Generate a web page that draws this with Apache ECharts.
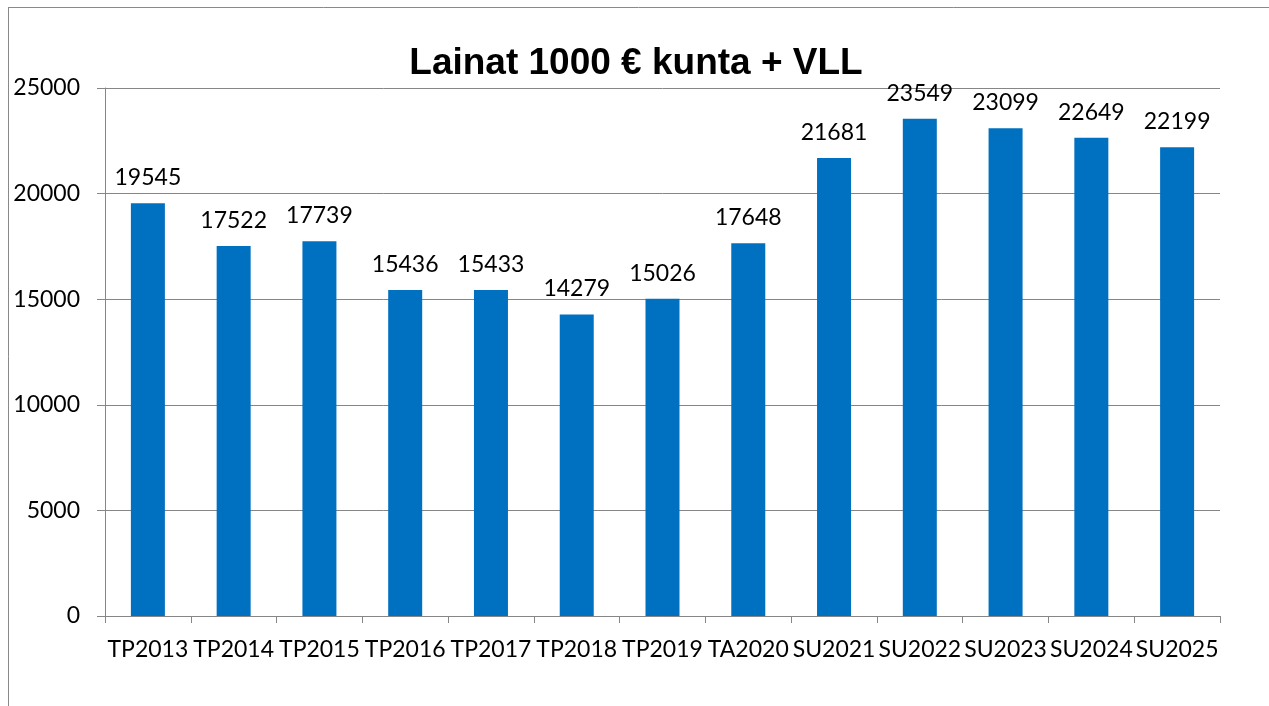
<!DOCTYPE html>
<html lang="fi">
<head>
    <meta charset="utf-8">
    <title>Lainat 1000 € kunta + VLL</title>
    <script src="https://cdn.jsdelivr.net/npm/echarts@6/dist/echarts.min.js"></script>
    <style>
        html, body { margin: 0; padding: 0; background: #fff; }
        #main { width: 1269px; height: 706px; }
    </style>
</head>
<body>
<div id="main"></div>
<script type="text/javascript">
    // data
    var categories = ['TP2013', 'TP2014', 'TP2015', 'TP2016', 'TP2017', 'TP2018', 'TP2019',
        'TA2020', 'SU2021', 'SU2022', 'SU2023', 'SU2024', 'SU2025'];
    var lainat = [19545, 17522, 17739, 15436, 15433, 14279, 15026,
        17648, 21681, 23549, 23099, 22649, 22199];
    var yTicks = [0, 5000, 10000, 15000, 20000, 25000];

    var myChart = echarts.init(document.getElementById('main'));
    var option = {
        backgroundColor: '#fff',
        animation: false,
        title: {
            text: 'Lainat 1000 € kunta + VLL',
            left: 631,
            top: 40,
            textAlign: 'center',
            textStyle: {
                fontFamily: 'Liberation Sans',
                fontWeight: 'bold',
                fontSize: 37,
                color: '#000'
            }
        },
        // chart area frame (only left and top edges show in the picture)
        graphic: [
            { type: 'line', shape: { x1: 8.5, y1: 7.5, x2: 8.5, y2: 706 }, style: { stroke: '#898989', lineWidth: 1 } },
            { type: 'line', shape: { x1: 8, y1: 7.5, x2: 1269, y2: 7.5 }, style: { stroke: '#898989', lineWidth: 1 } }
        ],
        grid: {
            left: 105,
            right: 49,
            top: 88,
            bottom: 90,
            containLabel: false
        },
        xAxis: {
            type: 'category',
            data: categories,
            axisLine: { lineStyle: { color: '#868686', width: 1 } },
            axisTick: { show: true, length: 7, lineStyle: { color: '#868686' } },
            axisLabel: {
                interval: 0,
                margin: 22,
                fontFamily: 'Lato',
                fontSize: 23,
                color: '#000'
            }
        },
        yAxis: {
            type: 'value',
            min: yTicks[0],
            max: yTicks[yTicks.length - 1],
            interval: 5000,
            axisLine: { show: true, lineStyle: { color: '#868686', width: 1 } },
            axisTick: { show: true, length: 8, lineStyle: { color: '#868686' } },
            axisLabel: {
                margin: 25,
                fontFamily: 'Lato',
                fontSize: 23,
                color: '#000',
                formatter: function (v) { return String(v); }
            },
            splitLine: { show: true, lineStyle: { color: '#868686', width: 1 } }
        },
        series: [{
            type: 'bar',
            data: lainat,
            barWidth: 34,
            itemStyle: { color: '#0070C0' },
            label: {
                show: true,
                position: 'top',
                distance: 14,
                fontFamily: 'Lato',
                fontSize: 23,
                color: '#000'
            }
        }]
    };
    myChart.setOption(option);
</script>
</body>
</html>
